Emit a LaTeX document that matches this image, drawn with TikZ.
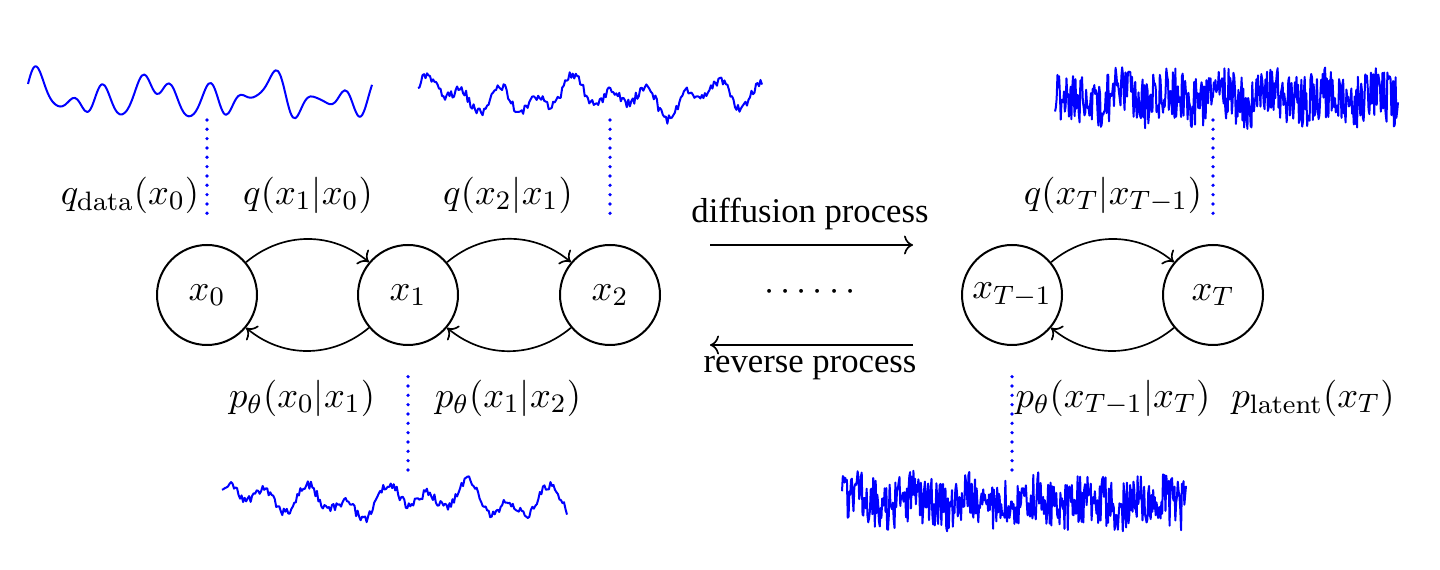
\documentclass[tikz,border=0pt]{standalone}
\usepackage[no-math]{fontspec}
\setmainfont{Liberation Serif}
\usetikzlibrary{arrows.meta,positioning}

\begin{document}
\begin{tikzpicture}[
  x=0.3pt, y=-0.3pt,
  font=\fontsize{11}{13}\selectfont,
  state/.style={draw, circle, minimum size=30pt, inner sep=0pt, line width=0.6pt},
  ar/.style={->, line width=0.5pt},
  dots/.style={blue, line width=1.1pt, dash pattern=on 0pt off 2.8pt, line cap=round},
  wave/.style={blue, line width=0.6pt, line join=round},
  lbl/.style={inner sep=1pt},
  txt/.style={inner sep=1pt, font=\fontsize{10.4}{12}\selectfont}
]
\useasboundingbox (0,0) rectangle (1440,570);

% markov chain
\node[state] (x0)  at (207,295)  {$x_0$};
\node[state] (x1)  at (408,295)  {$x_1$};
\node[state] (x2)  at (610,295)  {$x_2$};
\node[state] (xT1) at (1012,295) {$x_{T-1}$};
\node[state] (xT)  at (1213,295) {$x_T$};

\draw[ar] (x0)  to[bend left=40] (x1);
\draw[ar] (x1)  to[bend left=40] (x0);
\draw[ar] (x1)  to[bend left=40] (x2);
\draw[ar] (x2)  to[bend left=40] (x1);
\draw[ar] (xT1) to[bend left=40] (xT);
\draw[ar] (xT)  to[bend left=40] (xT1);

% labels
\node[lbl] (qd)  at (130,195)  {$q_{\mathrm{data}}(x_0)$};
\node[lbl] (q1)  at (308,195)  {$q(x_1|x_0)$};
\node[lbl] (q2)  at (508,195)  {$q(x_2|x_1)$};
\node[lbl] (qT)  at (1113,195) {$q(x_T|x_{T-1})$};
\node[lbl] (p0)  at (302,398)  {$p_\theta(x_0|x_1)$};
\node[lbl] (p1)  at (508,398)  {$p_\theta(x_1|x_2)$};
\node[lbl] (pT)  at (1113,398) {$p_\theta(x_{T-1}|x_T)$};
\node[lbl] (pl)  at (1313,398) {$p_{\mathrm{latent}}(x_T)$};

% middle
\node[txt] (dif) at (810,214) {diffusion process};
\node[txt] (rev) at (810,368) {reverse process};
\node[lbl] (mid) at (810,292) {$\cdots\cdots$};
\coordinate (fa) at (710,245);
\coordinate (fb) at (913,245);
\coordinate (ra) at (913,345);
\coordinate (rb) at (710,345);
\draw[ar] (fa) -- (fb);
\draw[ar] (ra) -- (rb);

% dotted links to the waves
\coordinate (w0) at (207,120);
\coordinate (w1) at (408,470);
\coordinate (w2) at (610,120);
\coordinate (w3) at (1012,470);
\coordinate (w4) at (1213,120);
\draw[dots] (w0) -- ++(0,100);
\draw[dots] (w1) -- ++(0,-100);
\draw[dots] (w2) -- ++(0,100);
\draw[dots] (w3) -- ++(0,-100);
\draw[dots] (w4) -- ++(0,100);

% waves
\draw[wave] plot[smooth, domain=0:344, samples=140]
  ({28+\x}, {97-11*sin(10.5*\x)-10*sin(6.2*\x+30)-8*sin(3.1*\x+70)-3*sin(16*\x+10)});
\pgfmathsetseed{7}
\draw[wave] plot[domain=0:344, samples=230]
  ({418+\x}, {97-10*sin(9.7*\x+20)-8*sin(5.3*\x)-6*sin(2.4*\x+50)-4.5*rand});
\pgfmathsetseed{11}
\draw[wave] plot[domain=0:345, samples=230]
  ({222+\x}, {500-10*sin(8.9*\x+60)-8*sin(4.7*\x+10)-5*sin(2.1*\x)-4.5*rand});
\pgfmathsetseed{23}
\draw[wave] plot[domain=0:343, samples=420]
  ({1055+\x}, {98-5*sin(7*\x)-26*rand});
\pgfmathsetseed{41}
\draw[wave] plot[domain=0:344, samples=420]
  ({842+\x}, {501-5*sin(6*\x+30)-26*rand});
\end{tikzpicture}
\end{document}
